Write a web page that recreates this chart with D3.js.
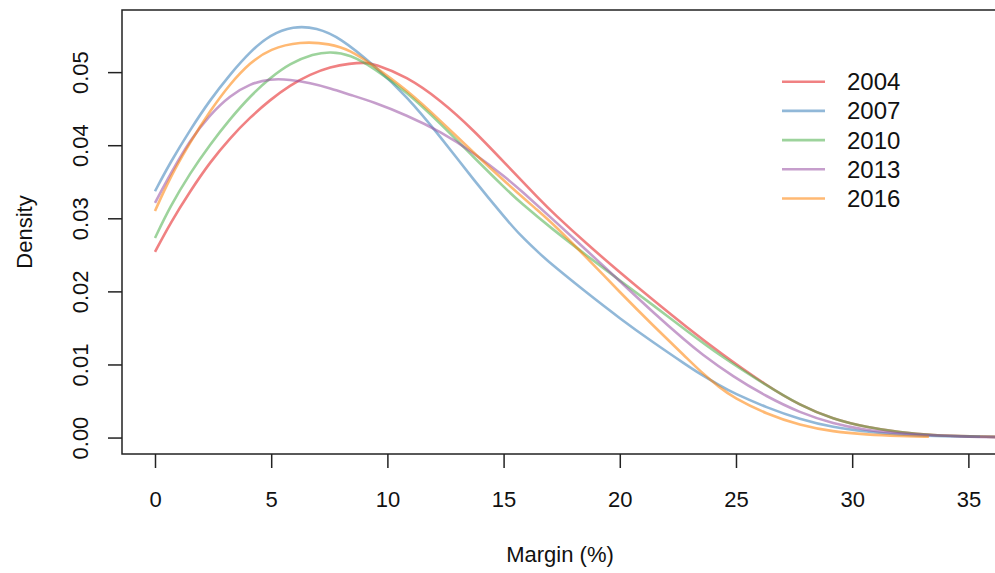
<!DOCTYPE html>
<html>
<head>
<meta charset="utf-8">
<script src="https://cdn.jsdelivr.net/npm/d3@7"></script>
<style>
  body { margin: 0; background: #fff; }
  svg { display: block; font-family: "Liberation Sans", Arial, sans-serif; }
</style>
</head>
<body>
<div id="chart"></div>
<script>
const width = 995;
const height = 573;

// series names + colours (Set1, drawn half transparent like the R plot)
const years = ["2004", "2007", "2010", "2013", "2016"];
const colours = ["#E41A1C", "#377EB8", "#4DAF4A", "#984EA3", "#FF7F00"];

const xTicks = [0, 5, 10, 15, 20, 25, 30, 35];
const yTicks = [0, 0.01, 0.02, 0.03, 0.04, 0.05];

// density curves: margin (%) and density
const x2004 = [0, 0.65, 1.51, 2.37, 3.23, 4.09, 4.95, 5.81, 6.68, 7.54, 8.4, 9.0, 9.4, 10.83, 12.27, 13.7, 15.13, 16.57, 17.14, 18.58, 20.0, 21.44, 22.88, 24.31, 26.32, 27.75, 29.18, 30.62, 32.05, 33.5, 35, 36.9];
const d2004 = [0.0254, 0.0293, 0.0337, 0.0377, 0.0410, 0.0438, 0.0462, 0.0482, 0.0497, 0.0507, 0.0512, 0.0513, 0.0512, 0.0494, 0.0462, 0.0421, 0.0373, 0.0325, 0.0307, 0.0265, 0.0226, 0.0188, 0.0151, 0.0116, 0.0071, 0.0044, 0.0025, 0.0014, 0.0007, 0.0003, 0.00015, 0.00005];

const x2007 = [0, 0.65, 1.51, 2.37, 3.23, 4.09, 4.95, 5.94, 6.96, 7.97, 9.4, 10.83, 12.27, 13.7, 15.13, 15.71, 16.57, 17.14, 18.58, 20.0, 21.44, 22.88, 23.45, 24.31, 24.88, 26.32, 27.75, 29.18, 30.62, 32.05, 33.5, 35.5];
const d2007 = [0.0337, 0.0376, 0.0421, 0.0462, 0.0497, 0.0528, 0.0551, 0.0563, 0.0561, 0.0547, 0.0510, 0.0467, 0.0412, 0.0353, 0.0298, 0.0277, 0.0251, 0.0235, 0.0198, 0.0163, 0.0130, 0.0099, 0.0087, 0.0071, 0.0061, 0.0041, 0.0025, 0.0014, 0.0008, 0.0004, 0.0002, 0.0001];

const x2010 = [0, 0.65, 1.51, 2.37, 3.23, 4.09, 4.95, 5.81, 6.82, 7.54, 8.4, 9.4, 10.83, 12.27, 13.7, 15.13, 15.71, 17.14, 18.58, 20.0, 21.44, 22.88, 24.31, 26.32, 27.75, 29.18, 30.62, 32.05, 33.5, 35, 36.9];
const d2010 = [0.0273, 0.0316, 0.0362, 0.0401, 0.0436, 0.0467, 0.0492, 0.0512, 0.0525, 0.0528, 0.0524, 0.0506, 0.0473, 0.0430, 0.0384, 0.0339, 0.0322, 0.0284, 0.0249, 0.0215, 0.0181, 0.0146, 0.0112, 0.0071, 0.0044, 0.0025, 0.0014, 0.0007, 0.0003, 0.00015, 0.00005];

const x2013 = [0, 0.65, 1.51, 2.37, 3.23, 4.09, 4.95, 5.81, 6.68, 7.54, 8.4, 9.4, 10.83, 12.27, 13.7, 15.13, 15.71, 17.14, 18.58, 20.0, 21.44, 22.88, 23.45, 24.88, 26.32, 27.75, 29.18, 30.62, 32.05, 34.9, 36.5];
const d2013 = [0.0321, 0.0360, 0.0407, 0.0442, 0.0468, 0.0484, 0.0491, 0.0490, 0.0485, 0.0478, 0.0469, 0.0459, 0.0441, 0.0419, 0.0390, 0.0355, 0.0339, 0.0298, 0.0256, 0.0214, 0.0171, 0.0131, 0.0116, 0.0083, 0.0056, 0.0034, 0.0019, 0.0010, 0.0005, 0.0001, 0.00005];

const x2016 = [0, 0.65, 1.51, 2.37, 3.23, 4.09, 4.95, 6.24, 7.54, 8.4, 9.4, 10.83, 12.27, 13.7, 15.13, 16.57, 17.14, 18.58, 20.0, 21.44, 22.88, 23.45, 24.31, 24.88, 26.32, 27.75, 29.18, 30.62, 32.05, 33.3];
const d2016 = [0.0310, 0.0356, 0.0404, 0.0447, 0.0484, 0.0513, 0.0532, 0.0542, 0.0539, 0.0530, 0.0509, 0.0476, 0.0434, 0.0390, 0.0348, 0.0308, 0.0292, 0.0246, 0.0199, 0.0153, 0.0109, 0.0091, 0.0068, 0.0055, 0.0032, 0.0017, 0.0008, 0.0004, 0.0002, 0.0001];

const seriesX = [x2004, x2007, x2010, x2013, x2016];
const seriesD = [d2004, d2007, d2010, d2013, d2016];

// plot region (right side runs past the window, like the reference)
const plotLeft = 122, plotRight = 1013, plotTop = 10, plotBottom = 454;

// R-style 4% padding on both axes
const xMin = 0, xMax = 35.5, yMax = 0.05625;
const xPad = (xMax - xMin) * 0.04;
const yPad = yMax * 0.04;

const xScale = d3.scaleLinear()
  .domain([xMin - xPad, xMax + xPad])
  .range([plotLeft, plotRight]);

const yScale = d3.scaleLinear()
  .domain([-yPad, yMax + yPad])
  .range([plotBottom, plotTop]);

const svg = d3.select("#chart")
  .append("svg")
  .attr("width", width)
  .attr("height", height);

svg.append("rect")
  .attr("width", width)
  .attr("height", height)
  .attr("fill", "#fff");

//****CURVES****
const line = d3.line()
  .x((d) => xScale(d[0]))
  .y((d) => yScale(d[1]))
  .curve(d3.curveBasis);

const curveGroup = svg.append("g").attr("id", "curves");

years.forEach(function (year, i) {
  const pts = seriesX[i].map((v, j) => [v, seriesD[i][j]]);
  curveGroup.append("path")
    .datum(pts)
    .attr("fill", "none")
    .attr("stroke", colours[i])
    .attr("stroke-opacity", 0.55)
    .attr("stroke-width", 2.6)
    .attr("stroke-linejoin", "round")
    .attr("d", line);
});

//****BOX****
svg.append("rect")
  .attr("x", plotLeft)
  .attr("y", plotTop)
  .attr("width", plotRight - plotLeft)
  .attr("height", plotBottom - plotTop)
  .attr("fill", "none")
  .attr("stroke", "#222")
  .attr("stroke-width", 1.5);

//****AXES****
const xAxis = d3.axisBottom(xScale)
  .tickValues(xTicks)
  .tickSize(14)
  .tickSizeOuter(0)
  .tickPadding(23)
  .tickFormat(d3.format("d"));

const xAxisGroup = svg.append("g")
  .attr("transform", `translate(0, ${plotBottom})`)
  .call(xAxis);

const yAxis = d3.axisLeft(yScale)
  .tickValues(yTicks)
  .tickSize(14)
  .tickSizeOuter(0)
  .tickFormat(d3.format(".2f"));

const yAxisGroup = svg.append("g")
  .attr("transform", `translate(${plotLeft}, 0)`)
  .call(yAxis);

// R only draws the axis line between first and last tick, the box covers it
xAxisGroup.select(".domain").remove();
yAxisGroup.select(".domain").remove();

[xAxisGroup, yAxisGroup].forEach(function (g) {
  g.selectAll(".tick line").attr("stroke", "#222").attr("stroke-width", 1.5);
  g.selectAll(".tick text")
    .attr("fill", "#111")
    .style("font-size", "22px")
    .style("font-family", "'Liberation Sans', Arial, sans-serif");
});

// rotated y labels, baseline on the right
yAxisGroup.selectAll(".tick text")
  .attr("x", null)
  .attr("dy", null)
  .attr("text-anchor", "middle")
  .attr("transform", "translate(-34, 0) rotate(-90)");

//****TITLES****
svg.append("text")
  .attr("x", 560)
  .attr("y", 562)
  .attr("text-anchor", "middle")
  .attr("fill", "#111")
  .style("font-size", "22px")
  .text("Margin (%)");

svg.append("text")
  .attr("transform", `translate(32, ${(plotTop + plotBottom) / 2}) rotate(-90)`)
  .attr("text-anchor", "middle")
  .attr("fill", "#111")
  .style("font-size", "22px")
  .text("Density");

//****LEGEND****
const legend = svg.append("g").attr("id", "legend");
const legendRows = legend.selectAll("g")
  .data(years)
  .enter()
  .append("g")
  .attr("transform", (d, i) => `translate(782, ${81.7 + i * 29.2})`);

legendRows.append("line")
  .attr("x1", 0)
  .attr("x2", 43)
  .attr("stroke", (d, i) => colours[i])
  .attr("stroke-opacity", 0.55)
  .attr("stroke-width", 2.6);

legendRows.append("text")
  .attr("x", 65)
  .attr("dy", "0.35em")
  .attr("fill", "#111")
  .style("font-size", "24px")
  .text((d) => d);
</script>
</body>
</html>
